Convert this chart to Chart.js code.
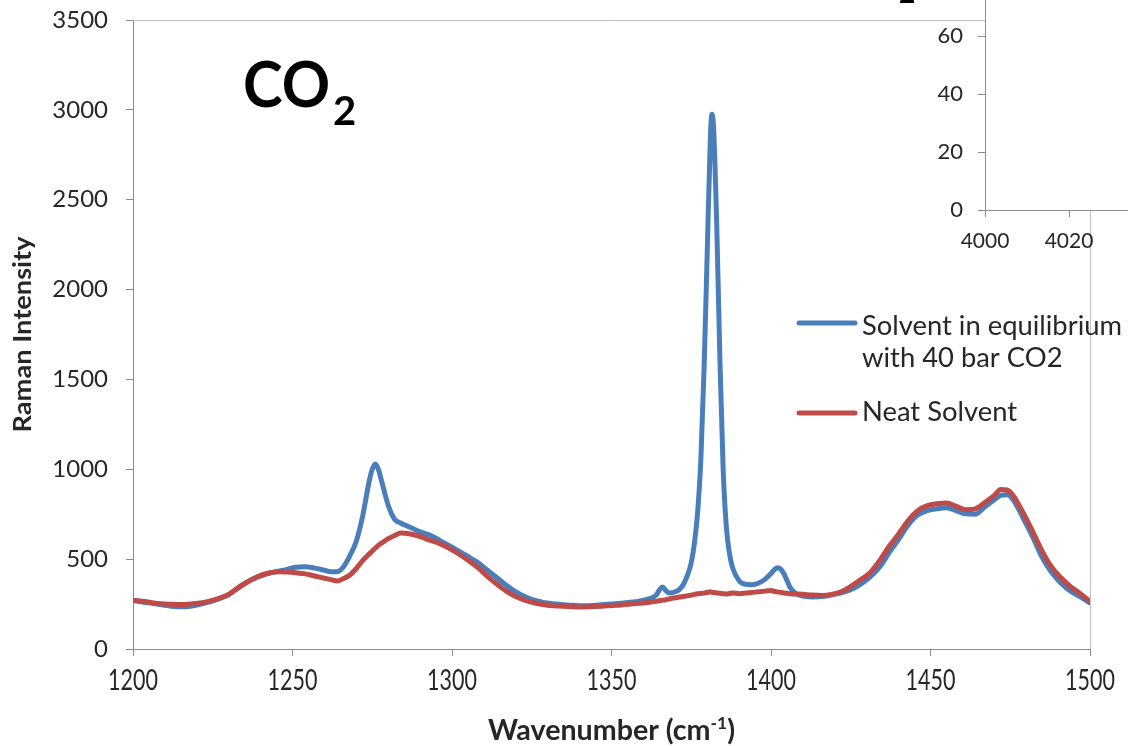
<!DOCTYPE html>
<html>
<head>
<meta charset="utf-8">
<script src="https://cdn.jsdelivr.net/npm/chart.js@4.4.0/dist/chart.umd.min.js"></script>
<style>
    html, body { margin: 0; padding: 0; background: #fff; }
    #wrap { position: relative; width: 1128px; height: 746px; overflow: hidden; }
    #main { position: absolute; left: 0; top: 0; }
    #inset { position: absolute; left: 880px; top: -40px; }
</style>
</head>
<body>
<div id="wrap">
    <canvas id="main" width="1128" height="746"></canvas>
    <canvas id="inset" width="340" height="300"></canvas>
</div>
<script>
// Raman shift (cm-1) sampled along the traces
const WAVENUMBERS = [
    1200, 1203, 1206, 1209, 1212, 1215, 1218, 1221, 1224, 1227,
    1230, 1233, 1236, 1239, 1242, 1245, 1248, 1251, 1254, 1257,
    1260, 1262, 1264, 1266, 1268, 1270, 1272, 1274, 1275, 1276,
    1277, 1278, 1280, 1282, 1284, 1287, 1290, 1293, 1296, 1299,
    1302, 1305, 1308, 1311, 1314, 1317, 1320, 1323, 1326, 1329,
    1332, 1335, 1338, 1341, 1344, 1347, 1350, 1353, 1356, 1359,
    1362, 1364, 1365, 1366, 1367, 1368, 1370, 1372, 1374, 1375,
    1376, 1377, 1378, 1379, 1380, 1381, 1381.5, 1382, 1383, 1384,
    1385, 1386, 1387, 1388, 1390, 1392, 1394, 1396, 1398, 1400,
    1401, 1402, 1403, 1404, 1405, 1406, 1408, 1410, 1413, 1416,
    1419, 1422, 1425, 1428, 1431, 1434, 1437, 1440, 1443, 1446,
    1449, 1452, 1455, 1458, 1461, 1464, 1467, 1470, 1472, 1474,
    1476, 1479, 1482, 1485, 1488, 1491, 1494, 1497, 1500
];

// Solvent in equilibrium with 40 bar CO2
const CO2_SOLVENT = [
    272, 262, 254, 246, 238, 235, 238, 248, 262, 280,
    302, 340, 375, 400, 418, 430, 442, 455, 458, 450,
    438, 430, 430, 458, 520, 600, 740, 930, 1000, 1030,
    995, 930, 800, 722, 700, 676, 652, 634, 606, 576,
    546, 515, 482, 440, 398, 355, 318, 290, 270, 258,
    252, 246, 243, 240, 242, 246, 250, 254, 260, 268,
    280, 300, 328, 345, 326, 312, 318, 345, 420, 480,
    590, 760, 1050, 1550, 2200, 2850, 2975, 2900, 2350, 1600,
    1000, 680, 530, 450, 380, 360, 358, 366, 386, 420,
    440, 452, 446, 420, 382, 342, 306, 295, 290, 292,
    300, 312, 330, 360, 400, 455, 535, 610, 690, 745,
    770, 780, 786, 770, 752, 750, 790, 830, 855, 858,
    828, 730, 625, 510, 425, 365, 320, 290, 256
];

// Neat solvent
const NEAT_SOLVENT = [
    270, 266, 258, 252, 249, 247, 250, 256, 266, 282,
    304, 342, 374, 402, 420, 430, 428, 424, 418, 406,
    394, 386, 378, 392, 412, 448, 492, 528, 545, 562,
    578, 590, 614, 632, 645, 640, 626, 606, 588, 562,
    530, 494, 455, 405, 362, 322, 292, 270, 256, 246,
    240, 238, 235, 234, 236, 238, 242, 245, 250, 255,
    260, 265, 268, 271, 274, 278, 285, 291, 297, 300,
    304, 307, 309, 311, 314, 318, 316, 314, 312, 310,
    308, 306, 309, 312, 308, 311, 315, 318, 322, 325,
    321, 318, 315, 312, 310, 308, 306, 304, 300, 298,
    304, 318, 348, 385, 423, 490, 570, 640, 715, 770,
    798, 808, 812, 795, 775, 780, 815, 855, 888, 885,
    852, 760, 655, 545, 455, 395, 345, 308, 263
];

const X_TICKS = [1200, 1250, 1300, 1350, 1400, 1450, 1500];
const Y_TICKS = [0, 500, 1000, 1500, 2000, 2500, 3000, 3500];
const INSET_X_TICKS = [4000, 4020, 4040];
const INSET_Y_TICKS = [0, 20, 40, 60, 80];
const SERIES_NAMES = [['Solvent in equilibrium', 'with 40 bar CO2'], ['Neat Solvent']];

const BLUE = '#4A7EBB';
const RED = '#BE4B48';
const AXIS = '#8C8C8C';
const FRAME = '#BFBFBF';
const TEXT = '#262626';

const toPoints = ys => WAVENUMBERS.map((x, i) => ({ x, y: ys[i] }));
const fixTicks = list => scale => { scale.ticks = list.map(v => ({ value: v })); };
const plain = v => String(v);
// fixed axis box, no extra padding for overhanging labels
const fitBox = (w, h) => s => {
    if (w !== null) s.width = w;
    if (h !== null) s.height = h;
    s.paddingTop = s.paddingBottom = s.paddingLeft = s.paddingRight = 0;
};

// text squeezed/stretched horizontally to a given width
function fitText(ctx, text, x, y, width, align) {
    const k = width / ctx.measureText(text).width;
    ctx.save();
    ctx.translate(x, y);
    ctx.scale(k, 1);
    ctx.textAlign = align || 'left';
    ctx.fillText(text, 0, 0);
    ctx.restore();
}

const decor = {
    id: 'decor',
    beforeDatasetsDraw(chart) {
        const { ctx, chartArea: a } = chart;
        ctx.save();
        ctx.strokeStyle = FRAME;
        ctx.lineWidth = 1;
        ctx.beginPath();
        ctx.moveTo(a.left, a.top + 0.5);
        ctx.lineTo(a.right + 0.5, a.top + 0.5);
        ctx.lineTo(a.right + 0.5, a.bottom);
        ctx.stroke();
        ctx.restore();
    },
    afterDraw(chart) {
        const { ctx, chartArea: a } = chart;
        const xs = chart.scales.x;
        ctx.save();
        ctx.fillStyle = TEXT;
        ctx.textBaseline = 'alphabetic';

        // x tick labels (narrow, like the original)
        ctx.font = '29px Lato';
        X_TICKS.forEach(v => {
            const px = xs.getPixelForValue(v);
            const w = ctx.measureText(String(v)).width * 0.74;
            fitText(ctx, String(v), px, 690, w, 'center');
        });

        // x axis title with superscript
        const cx = (a.left + a.right) / 2;
        const p1 = 'Wavenumber (cm', p2 = '-1', p3 = ')';
        ctx.font = 'bold 28px Lato';
        const w1 = ctx.measureText(p1).width, w3 = ctx.measureText(p3).width;
        ctx.font = 'bold 17px Lato';
        const w2 = ctx.measureText(p2).width;
        const k = 247 / (w1 + w2 + w3);
        ctx.save();
        ctx.translate(cx - 247 / 2, 740);
        ctx.scale(k, 1);
        ctx.textAlign = 'left';
        ctx.font = 'bold 28px Lato';
        ctx.fillText(p1, 0, 0);
        ctx.fillText(p3, w1 + w2, 0);
        ctx.font = 'bold 17px Lato';
        ctx.fillText(p2, w1, -11);
        ctx.restore();

        // y axis title
        ctx.save();
        ctx.translate(31, (a.top + a.bottom) / 2);
        ctx.rotate(-Math.PI / 2);
        ctx.font = 'bold 24px Lato';
        fitText(ctx, 'Raman Intensity', 0, 0, 196, 'center');
        ctx.restore();

        // CO2 label
        ctx.font = 'bold 63px Lato';
        ctx.textAlign = 'left';
        ctx.fillStyle = '#000';
        fitText(ctx, 'CO', 243, 107, 87, 'left');
        ctx.font = 'bold 40px Lato';
        ctx.fillText('2', 333, 125);

        // clipped caption fragment at the very top
        ctx.font = 'bold 28px Lato';
        ctx.fillText('2', 899, 3);

        // legend
        const items = [
            { color: BLUE, y: 323, lines: SERIES_NAMES[0], base: [335, 367] },
            { color: RED, y: 413, lines: SERIES_NAMES[1], base: [421] }
        ];
        ctx.lineCap = 'round';
        ctx.lineWidth = 5;
        items.forEach(it => {
            ctx.strokeStyle = it.color;
            ctx.beginPath();
            ctx.moveTo(799, it.y);
            ctx.lineTo(855, it.y);
            ctx.stroke();
        });
        ctx.fillStyle = TEXT;
        ctx.font = '27px Lato';
        const scaleK = 260 / ctx.measureText(SERIES_NAMES[0][0]).width;
        items.forEach(it => {
            it.lines.forEach((line, i) => {
                fitText(ctx, line, 862, it.base[i], ctx.measureText(line).width * scaleK, 'left');
            });
        });
        ctx.restore();
    }
};

new Chart(document.getElementById('main'), {
    type: 'line',
    data: {
        datasets: [{
            label: SERIES_NAMES[0].join(' '),
            data: toPoints(CO2_SOLVENT),
            borderColor: BLUE,
            borderWidth: 5,
            order: 1
        }, {
            label: SERIES_NAMES[1].join(' '),
            data: toPoints(NEAT_SOLVENT),
            borderColor: RED,
            borderWidth: 5,
            order: 0
        }]
    },
    options: {
        responsive: false,
        animation: false,
        elements: {
            point: { radius: 0 },
            line: { cubicInterpolationMode: 'monotone', borderCapStyle: 'round', borderJoinStyle: 'round' }
        },
        layout: { padding: { left: 0, top: 20, right: 38, bottom: 0 } },
        plugins: { legend: { display: false }, tooltip: { enabled: false } },
        scales: {
            x: {
                type: 'linear',
                min: 1200,
                max: 1500,
                afterBuildTicks: fixTicks(X_TICKS),
                afterFit: fitBox(null, 97),
                ticks: { display: false },
                grid: { drawOnChartArea: false, tickLength: 7, color: AXIS },
                border: { color: AXIS }
            },
            y: {
                min: 0,
                max: 3500,
                afterBuildTicks: fixTicks(Y_TICKS),
                afterFit: fitBox(133, null),
                ticks: { color: TEXT, padding: 18, callback: plain, font: { family: 'Lato', size: 24 } },
                grid: { drawOnChartArea: false, tickLength: 7, color: AXIS },
                border: { color: AXIS }
            }
        }
    },
    plugins: [decor]
});

// inset chart, mostly off the page
new Chart(document.getElementById('inset'), {
    type: 'scatter',
    data: { datasets: [{ data: [] }] },
    options: {
        responsive: false,
        animation: false,
        layout: { padding: { left: 0, top: 18, right: 67, bottom: 0 } },
        plugins: { legend: { display: false }, tooltip: { enabled: false } },
        scales: {
            x: {
                type: 'linear',
                min: 4000,
                max: 4040,
                afterBuildTicks: fixTicks(INSET_X_TICKS),
                afterFit: fitBox(null, 50),
                ticks: { color: TEXT, padding: 12, maxRotation: 0, callback: plain, font: { family: 'Lato', size: 21 } },
                grid: { drawOnChartArea: false, tickLength: 7, color: AXIS },
                border: { color: AXIS }
            },
            y: {
                min: 0,
                max: 80,
                afterBuildTicks: fixTicks(INSET_Y_TICKS),
                afterFit: fitBox(105, null),
                ticks: { color: TEXT, padding: 15, callback: plain, font: { family: 'Lato', size: 22 } },
                grid: { drawOnChartArea: false, tickLength: 7, color: AXIS },
                border: { color: AXIS }
            }
        }
    },
    plugins: [{
        id: 'insetBg',
        beforeDraw(chart) {
            const { ctx, chartArea: a } = chart;
            ctx.save();
            ctx.fillStyle = '#fff';
            ctx.fillRect(a.left, a.top, a.right - a.left, a.bottom - a.top);
            ctx.restore();
        }
    }]
});
</script>
</body>
</html>
